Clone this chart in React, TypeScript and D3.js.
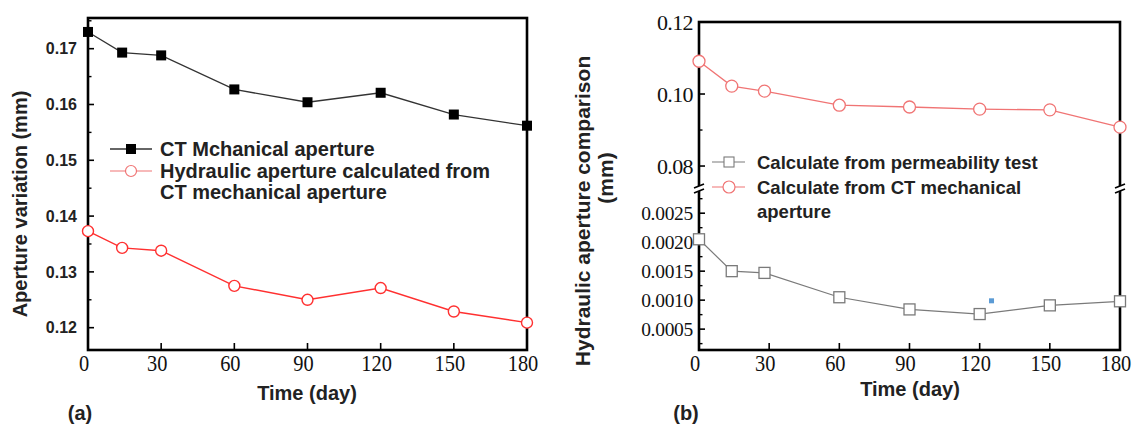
import React from 'react';
import * as d3 from 'd3';

const daysA = [0, 14, 30, 60, 90, 120, 150, 180];
const ctMechanical = [0.173, 0.1693, 0.1688, 0.1627, 0.1604, 0.1621, 0.1582, 0.1562];
const hydraulicFromCTa = [0.1373, 0.1343, 0.1338, 0.1275, 0.125, 0.1271, 0.1229, 0.1209];
const daysB = [0, 14, 28, 60, 90, 120, 150, 180];
const hydraulicFromCTb = [0.1091, 0.1022, 0.1008, 0.0969, 0.0964, 0.0958, 0.0956, 0.0908];
const permeabilityTest = [0.00205, 0.0015, 0.00147, 0.00105, 0.00084, 0.00076, 0.00091, 0.00098];
const xTicks = [0, 30, 60, 90, 120, 150, 180];
const yTicksA = [0.12, 0.13, 0.14, 0.15, 0.16, 0.17];
const yMinorA = [0.125, 0.135, 0.145, 0.155, 0.165, 0.175];
const yTicksBUpper = [0.08, 0.1, 0.12];
const yMinorBUpper = [0.09, 0.11];
const yTicksBLower = [0.0005, 0.001, 0.0015, 0.002, 0.0025];
const yMinorBLower = [0.00025, 0.00075, 0.00125, 0.00175, 0.00225, 0.00275];
const legendA = ['CT Mchanical aperture', 'Hydraulic aperture calculated from', 'CT mechanical aperture'];
const legendB = ['Calculate from permeability test', 'Calculate from CT mechanical', 'aperture'];

const SANS = 'Arial, "Liberation Sans", sans-serif';
const SERIF = '"Times New Roman", "Liberation Serif", serif';

export default function App() {
  const xA = d3.scaleLinear().domain([0, 180]).range([88, 527]);
  const yA = d3.scaleLinear().domain([0.116, 0.1755]).range([350, 18]);
  const xB = d3.scaleLinear().domain([0, 180]).range([699, 1120]);
  const yBu = d3.scaleLinear().domain([0.0739, 0.12]).range([188, 22]);
  const yBl = d3.scaleLinear().domain([0.00014, 0.0029]).range([350, 190]);

  const lineA = (ys: number[]) =>
    d3.line<number>().x((_, i) => xA(daysA[i])).y((d) => yA(d))(ys) || '';
  const lineBu = d3.line<number>().x((_, i) => xB(daysB[i])).y((d) => yBu(d))(hydraulicFromCTb) || '';
  const lineBl = d3.line<number>().x((_, i) => xB(daysB[i])).y((d) => yBl(d))(permeabilityTest) || '';

  const red = '#ff3030';
  const pink = '#f07474';
  const gray = '#7a7a7a';

  const xLabel = (x: number, t: number, key: string) => (
    <g key={key} transform={`translate(${x - 4},371) scale(0.85,1)`}>
      <text x={0} y={0} textAnchor="middle" fontFamily={SERIF} fontSize={24} fill="#111">
        {t}
      </text>
    </g>
  );

  return (
    <svg width={1134} height={430} style={{ position: 'absolute', left: 0, top: 0, background: '#fff' }}>
      <rect x={0} y={0} width={1134} height={430} fill="#fff" />

      {/* ================= Panel A ================= */}
      {yTicksA.map((t) => (
        <g key={'ya' + t}>
          <line x1={xA(0)} x2={xA(0) + 6} y1={yA(t)} y2={yA(t)} stroke="#000" strokeWidth={1.6} />
          <text x={77} y={yA(t)} dy="0.36em" textAnchor="end" fontFamily={SANS} fontWeight="bold" fontSize={16} fill="#222">
            {t.toFixed(2)}
          </text>
        </g>
      ))}
      {yMinorA.map((t) => (
        <line key={'yma' + t} x1={xA(0)} x2={xA(0) + 3.5} y1={yA(t)} y2={yA(t)} stroke="#000" strokeWidth={1.4} />
      ))}
      {xTicks.map((t) => (
        <g key={'xa' + t}>
          <line x1={xA(t)} x2={xA(t)} y1={350} y2={343} stroke="#000" strokeWidth={1.6} />
          {xLabel(xA(t), t, 'xal' + t)}
        </g>
      ))}
      <rect x={xA(0)} y={yA(0.1755)} width={xA(180) - xA(0)} height={350 - yA(0.1755)} fill="none" stroke="#000" strokeWidth={2.6} />

      <path d={lineA(ctMechanical)} fill="none" stroke="#333" strokeWidth={1.3} />
      {ctMechanical.map((v, i) => (
        <rect key={'ct' + i} x={xA(daysA[i]) - 5} y={yA(v) - 5} width={10} height={10} fill="#000" />
      ))}
      <path d={lineA(hydraulicFromCTa)} fill="none" stroke={red} strokeWidth={1.4} />
      {hydraulicFromCTa.map((v, i) => (
        <circle key={'ha' + i} cx={xA(daysA[i])} cy={yA(v)} r={5.5} fill="#fff" stroke={red} strokeWidth={1.4} />
      ))}

      {/* legend A */}
      <line x1={110} x2={152} y1={149} y2={149} stroke="#333" strokeWidth={1.3} />
      <rect x={126} y={144} width={10} height={10} fill="#000" />
      <text x={160} y={149} dy="0.36em" fontFamily={SANS} fontWeight="bold" fontSize={20} fill="#222">{legendA[0]}</text>
      <line x1={110} x2={152} y1={171} y2={171} stroke={pink} strokeWidth={1.2} />
      <circle cx={131} cy={171} r={5.5} fill="#fff" stroke={pink} strokeWidth={1.2} />
      <text x={160} y={170.5} dy="0.36em" fontFamily={SANS} fontWeight="bold" fontSize={20} fill="#222">{legendA[1]}</text>
      <text x={160} y={191.5} dy="0.36em" fontFamily={SANS} fontWeight="bold" fontSize={20} fill="#222">{legendA[2]}</text>

      {/* axis titles A */}
      <text transform={`translate(27,204) rotate(-90)`} textAnchor="middle" fontFamily={SANS} fontWeight="bold" fontSize={20} fill="#222">
        Aperture variation (mm)
      </text>
      <text x={307} y={400} textAnchor="middle" fontFamily={SANS} fontWeight="bold" fontSize={20} fill="#222">Time (day)</text>
      <text x={80} y={420} textAnchor="middle" fontFamily={SANS} fontWeight="bold" fontSize={20} fill="#222">(a)</text>

      {/* ================= Panel B ================= */}
      {yTicksBUpper.map((t) => (
        <g key={'ybu' + t}>
          {t < 0.12 && <line x1={xB(0)} x2={xB(0) + 6} y1={yBu(t)} y2={yBu(t)} stroke="#000" strokeWidth={1.6} />}
          <text x={693} y={yBu(t)} dy="0.36em" textAnchor="end" fontFamily={SERIF} fontSize={22} fill="#111" letterSpacing={-0.6}>
            {t.toFixed(2)}
          </text>
        </g>
      ))}
      {yMinorBUpper.map((t) => (
        <line key={'ymbu' + t} x1={xB(0)} x2={xB(0) + 3.5} y1={yBu(t)} y2={yBu(t)} stroke="#000" strokeWidth={1.4} />
      ))}
      {yTicksBLower.map((t) => (
        <g key={'ybl' + t}>
          <line x1={xB(0)} x2={xB(0) + 6} y1={yBl(t)} y2={yBl(t)} stroke="#000" strokeWidth={1.6} />
          <text x={693} y={yBl(t)} dy="0.36em" textAnchor="end" fontFamily={SERIF} fontSize={19.5} fill="#111" letterSpacing={-0.3}>
            {t.toFixed(4)}
          </text>
        </g>
      ))}
      {yMinorBLower.map((t) => (
        <line key={'ymbl' + t} x1={xB(0)} x2={xB(0) + 3.5} y1={yBl(t)} y2={yBl(t)} stroke="#000" strokeWidth={1.4} />
      ))}
      {xTicks.map((t) => (
        <g key={'xb' + t}>
          <line x1={xB(t)} x2={xB(t)} y1={350} y2={343} stroke="#000" strokeWidth={1.6} />
          {xLabel(xB(t), t, 'xbl' + t)}
        </g>
      ))}
      <rect x={xB(0)} y={22} width={xB(180) - xB(0)} height={328} fill="none" stroke="#000" strokeWidth={2.6} />
      {[xB(0), xB(180)].map((bx, i) => (
        <g key={'brk' + i}>
          <rect x={bx - 4} y={186} width={8} height={5} fill="#fff" />
          <line x1={bx - 5} x2={bx + 5} y1={188} y2={184} stroke="#000" strokeWidth={1.6} />
          <line x1={bx - 5} x2={bx + 5} y1={193} y2={189} stroke="#000" strokeWidth={1.6} />
        </g>
      ))}

      <path d={lineBu} fill="none" stroke={pink} strokeWidth={1.3} />
      {hydraulicFromCTb.map((v, i) => (
        <circle key={'hb' + i} cx={xB(daysB[i])} cy={yBu(v)} r={6} fill="#fff" stroke={pink} strokeWidth={1.3} />
      ))}
      <path d={lineBl} fill="none" stroke={gray} strokeWidth={1.2} />
      {permeabilityTest.map((v, i) => (
        <rect key={'pt' + i} x={xB(daysB[i]) - 5.5} y={yBl(v) - 5.5} width={11} height={11} fill="#fff" stroke={gray} strokeWidth={1.3} />
      ))}
      <rect x={xB(124)} y={yBl(0.00098) - 3} width={5} height={5} fill="#5b9bd5" />

      {/* legend B */}
      <line x1={712} x2={745} y1={162} y2={162} stroke={gray} strokeWidth={1.1} />
      <rect x={724} y={157} width={10} height={10} fill="#fff" stroke={gray} strokeWidth={1.1} />
      <text x={757} y={162} dy="0.36em" fontFamily={SANS} fontWeight="bold" fontSize={18.5} fill="#222">{legendB[0]}</text>
      <line x1={712} x2={745} y1={187} y2={187} stroke={pink} strokeWidth={1.2} />
      <circle cx={729} cy={187} r={6} fill="#fff" stroke={pink} strokeWidth={1.2} />
      <text x={757} y={187} dy="0.36em" fontFamily={SANS} fontWeight="bold" fontSize={18.5} fill="#222">{legendB[1]}</text>
      <text x={757} y={211} dy="0.36em" fontFamily={SANS} fontWeight="bold" fontSize={18.5} fill="#222">{legendB[2]}</text>

      {/* axis titles B */}
      <text transform={`translate(590,211) rotate(-90)`} textAnchor="middle" fontFamily={SANS} fontWeight="bold" fontSize={21} fill="#222">
        Hydraulic aperture comparison
      </text>
      <text transform={`translate(613,178) rotate(-90)`} textAnchor="middle" fontFamily={SANS} fontWeight="bold" fontSize={21} fill="#222">
        (mm)
      </text>
      <text x={910} y={396} textAnchor="middle" fontFamily={SANS} fontWeight="bold" fontSize={20} fill="#222">Time (day)</text>
      <text x={686} y={420} textAnchor="middle" fontFamily={SANS} fontWeight="bold" fontSize={20} fill="#222">(b)</text>
    </svg>
  );
}
